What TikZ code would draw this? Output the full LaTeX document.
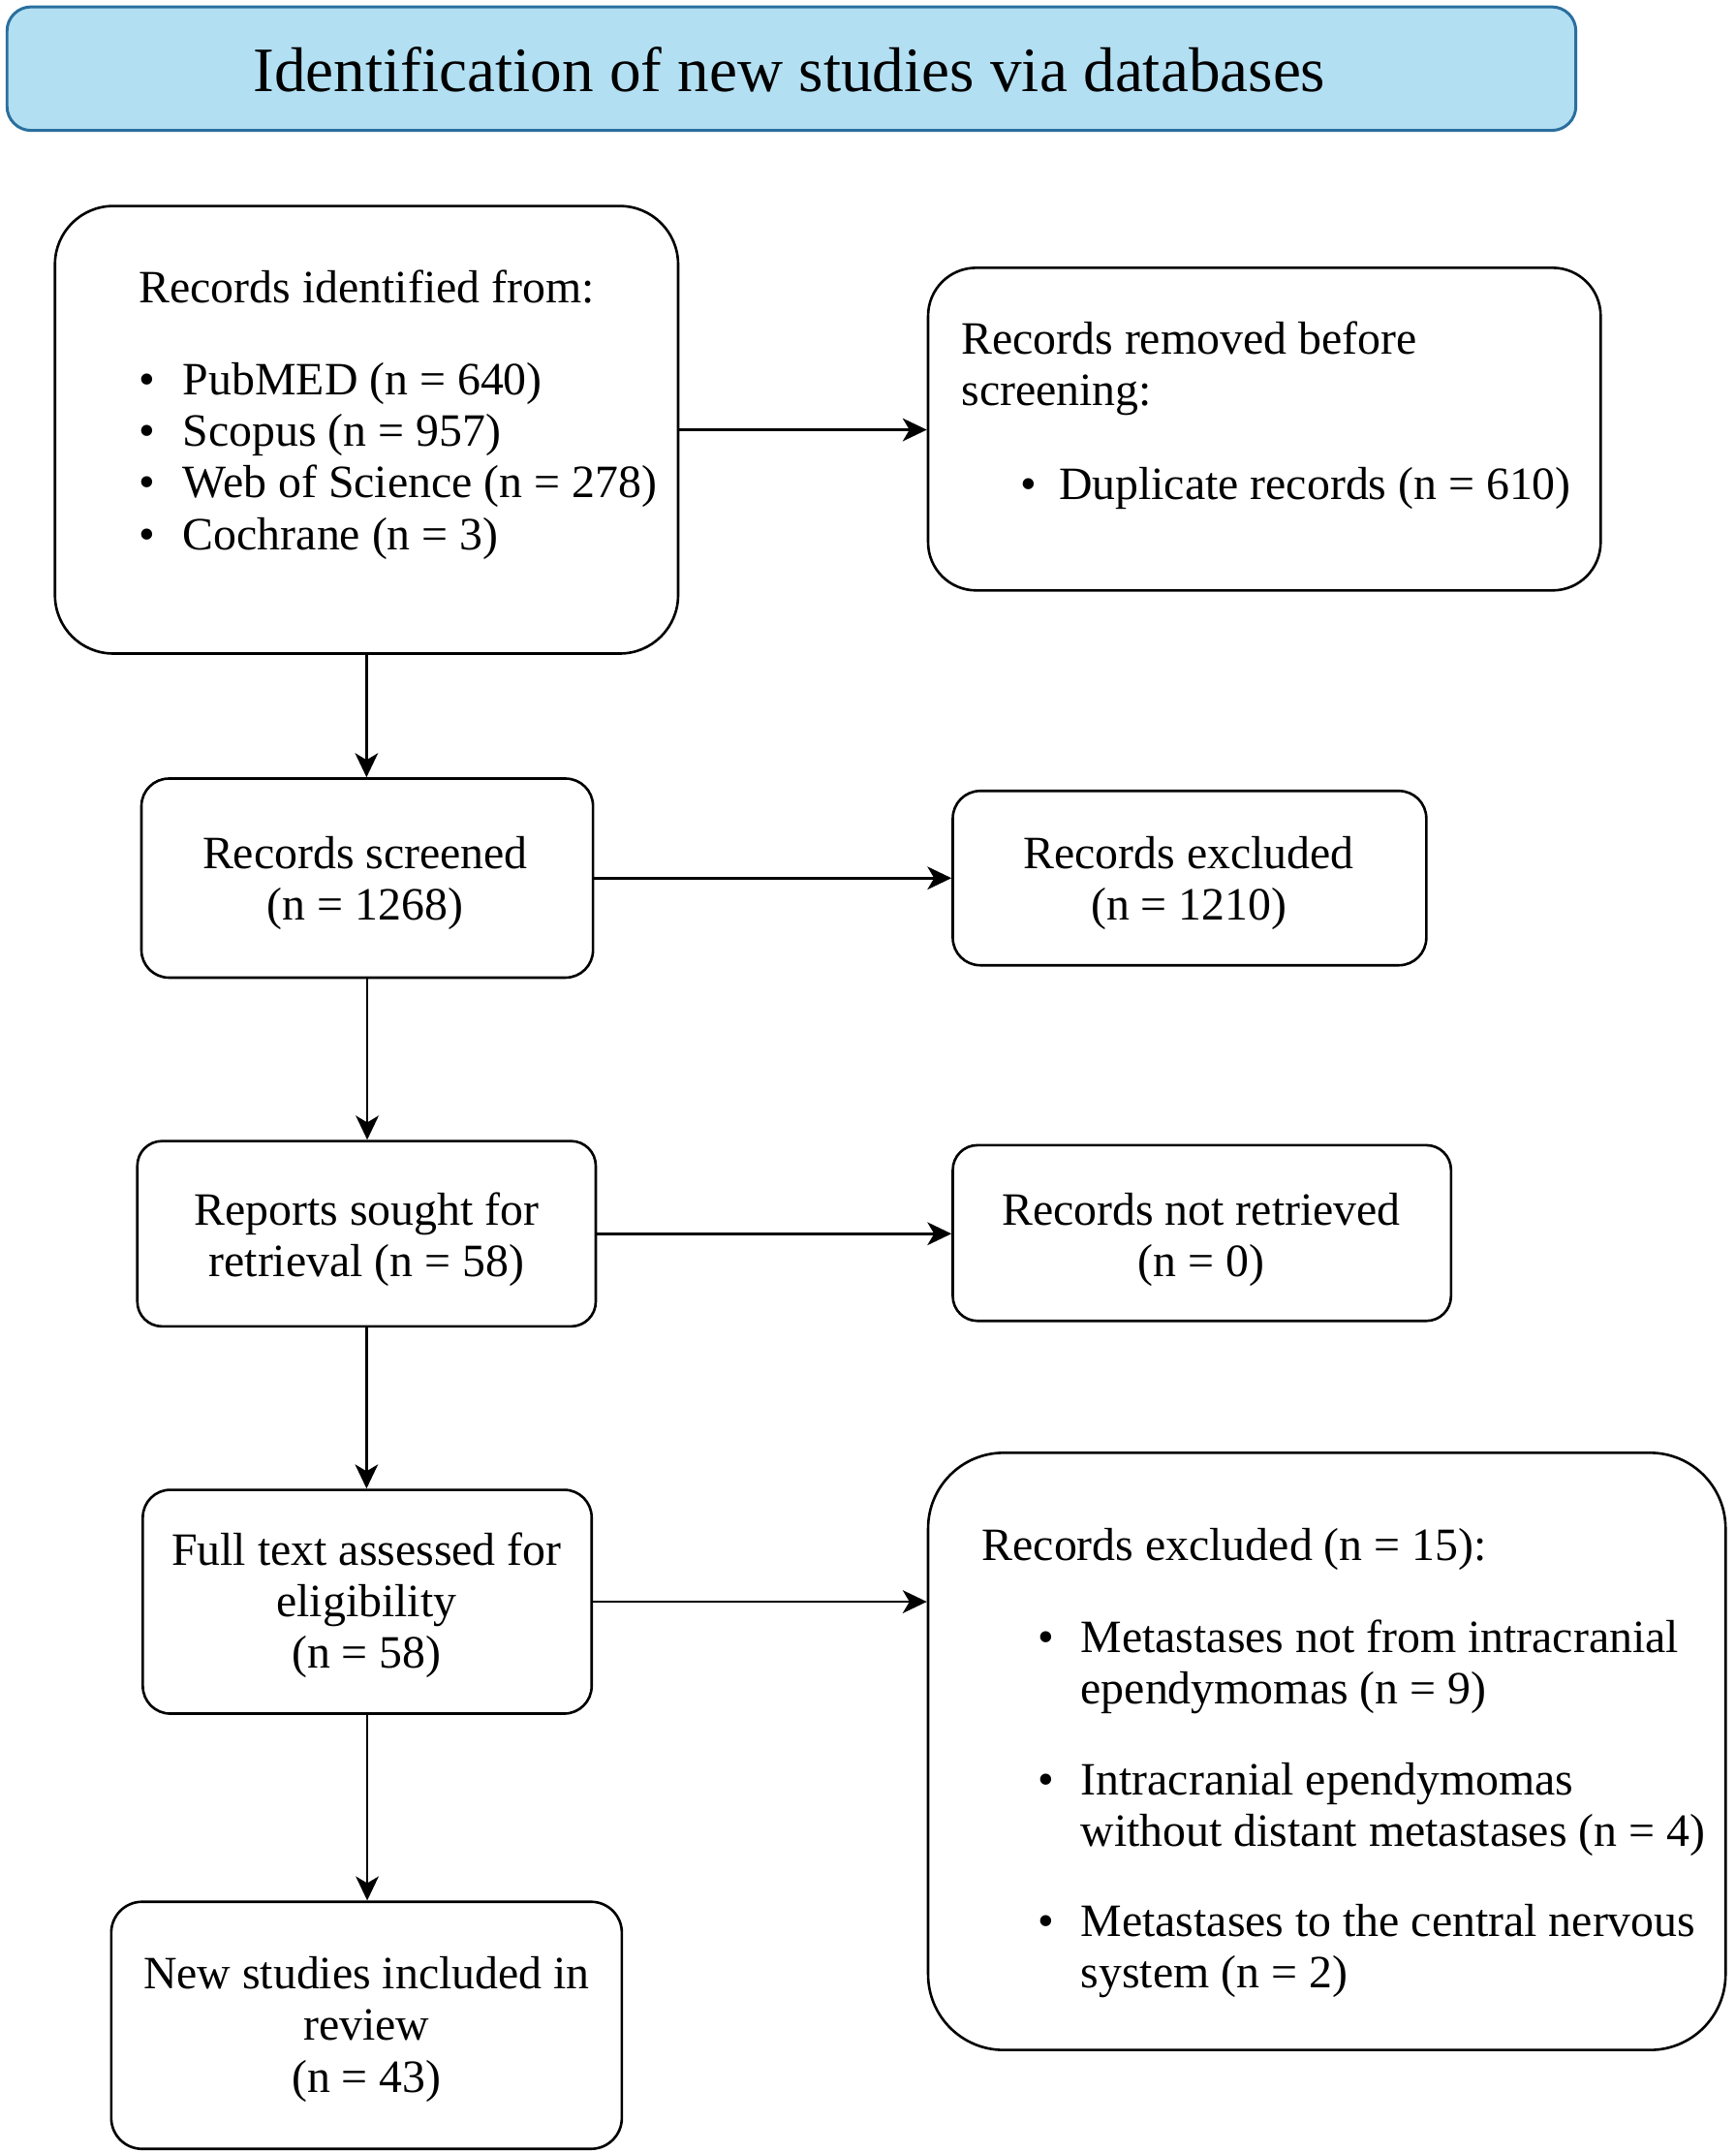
\documentclass[tikz,border=0pt]{standalone}
\usepackage{fontspec}
\setmainfont{Liberation Serif}
\usepackage{tikz}
\usetikzlibrary{arrows.meta}

\definecolor{headfill}{RGB}{179,223,242}
\definecolor{headline}{RGB}{42,111,158}

\tikzset{
	flowbox/.style={draw=black, line width=1.05pt, fill=white, inner sep=0pt},
	flowtext/.style={inner sep=0pt, font=\fontsize{19.2}{21.3}\selectfont},
	flowarrow/.style={line width=1.05pt, -{Stealth[length=10pt,width=9.5pt,inset=2.8pt]}}
}
\newcommand{\bul}[1]{\makebox[#1][l]{\textbullet}}

\begin{document}
\begin{tikzpicture}[x=0.02cm, y=-0.02cm]
	\useasboundingbox (0,0) rectangle (1263.9,1568);
	
	%header
	\node[draw=headline, fill=headfill, line width=1.2pt, rounded corners=0.35cm, minimum width=22.86cm, minimum height=1.8cm] (head) at (576.5,50) {};
	\node[inner sep=0pt, font=\fontsize{26.2}{30}\selectfont] (headtxt) at (575,51) {Identification of new studies via databases};
	
	%boxes
	\node[flowbox, rounded corners=0.85cm, minimum width=9.08cm, minimum height=6.52cm] (ident) at (267,313) {};	%records identified
	\node[flowbox, rounded corners=0.7cm, minimum width=9.8cm, minimum height=4.7cm] (removed) at (921,312.5) {};	%removed before screening
	\node[flowbox, rounded corners=0.4cm, minimum width=6.58cm, minimum height=2.9cm] (screened) at (267.5,639.5) {};
	\node[flowbox, rounded corners=0.4cm, minimum width=6.9cm, minimum height=2.54cm] (excluded) at (866.5,639.5) {};
	\node[flowbox, rounded corners=0.36cm, minimum width=6.68cm, minimum height=2.7cm] (sought) at (267,898.5) {};
	\node[flowbox, rounded corners=0.36cm, minimum width=7.26cm, minimum height=2.56cm] (notretr) at (875.5,898) {};
	\node[flowbox, rounded corners=0.4cm, minimum width=6.54cm, minimum height=3.26cm] (fulltext) at (267.5,1166.5) {};
	\node[flowbox, rounded corners=1.1cm, minimum width=11.62cm, minimum height=8.7cm] (reasons) at (966.5,1275.5) {};	%records excluded (n = 15)
	\node[flowbox, rounded corners=0.45cm, minimum width=7.44cm, minimum height=3.6cm] (included) at (267,1475) {};
	
	%labels
	\node[flowtext, anchor=west, align=left] (identtxt) at (101,302) {Records identified from:\\[0.6cm]
		\bul{0.64cm}PubMED (n = 640)\\
		\bul{0.64cm}Scopus (n = 957)\\
		\bul{0.64cm}Web of Science (n = 278)\\
		\bul{0.64cm}Cochrane (n = 3)};
	\node[flowtext, anchor=west, align=left] (removedtxt) at (700,302.5) {Records removed before\\screening:\\[0.62cm]
		\hspace*{0.86cm}\bul{0.56cm}Duplicate records (n = 610)};
	\node[flowtext, align=center] (screenedtxt) at (266,643) {Records screened\\(n = 1268)};
	\node[flowtext, align=center] (excludedtxt) at (866,643) {Records excluded\\(n = 1210)};
	\node[flowtext, align=center] (soughttxt) at (267,903) {Reports sought for\\retrieval (n = 58)};
	\node[flowtext, align=center] (notretrtxt) at (875,903) {Records not retrieved\\(n = 0)};
	\node[flowtext, align=center] (fulltexttxt) at (267,1169) {Full text assessed for\\eligibility\\(n = 58)};
	\node[flowtext, anchor=west, align=left] (reasonstxt) at (715,1284) {Records excluded (n = 15):\\[0.6cm]
		\hspace*{0.82cm}\bul{0.62cm}Metastases not from intracranial\\
		\hspace*{1.44cm}ependymomas (n = 9)\\[0.58cm]
		\hspace*{0.82cm}\bul{0.62cm}Intracranial ependymomas\\
		\hspace*{1.44cm}without distant metastases (n = 4)\\[0.56cm]
		\hspace*{0.82cm}\bul{0.62cm}Metastases to the central nervous\\
		\hspace*{1.44cm}system (n = 2)};
	\node[flowtext, align=center] (includedtxt) at (267,1478) {New studies included in\\review\\(n = 43)};
	
	%arrows
	\draw[flowarrow] (ident.east) -- (ident.east -| removed.west);	%to removed
	\draw[flowarrow] (screened.east) -- (screened.east -| excluded.west);	%to excluded
	\draw[flowarrow] (sought.east) -- (sought.east -| notretr.west);	%to not retrieved
	\draw[flowarrow] (fulltext.east) -- (fulltext.east -| reasons.west);	%to reasons
	\draw[flowarrow] (ident.south) -- (ident.south |- screened.north);	%down
	\draw[flowarrow] (screened.south) -- (screened.south |- sought.north);	%down
	\draw[flowarrow] (sought.south) -- (sought.south |- fulltext.north);	%down
	\draw[flowarrow] (fulltext.south) -- (fulltext.south |- included.north);	%down
	
\end{tikzpicture}
\end{document}
